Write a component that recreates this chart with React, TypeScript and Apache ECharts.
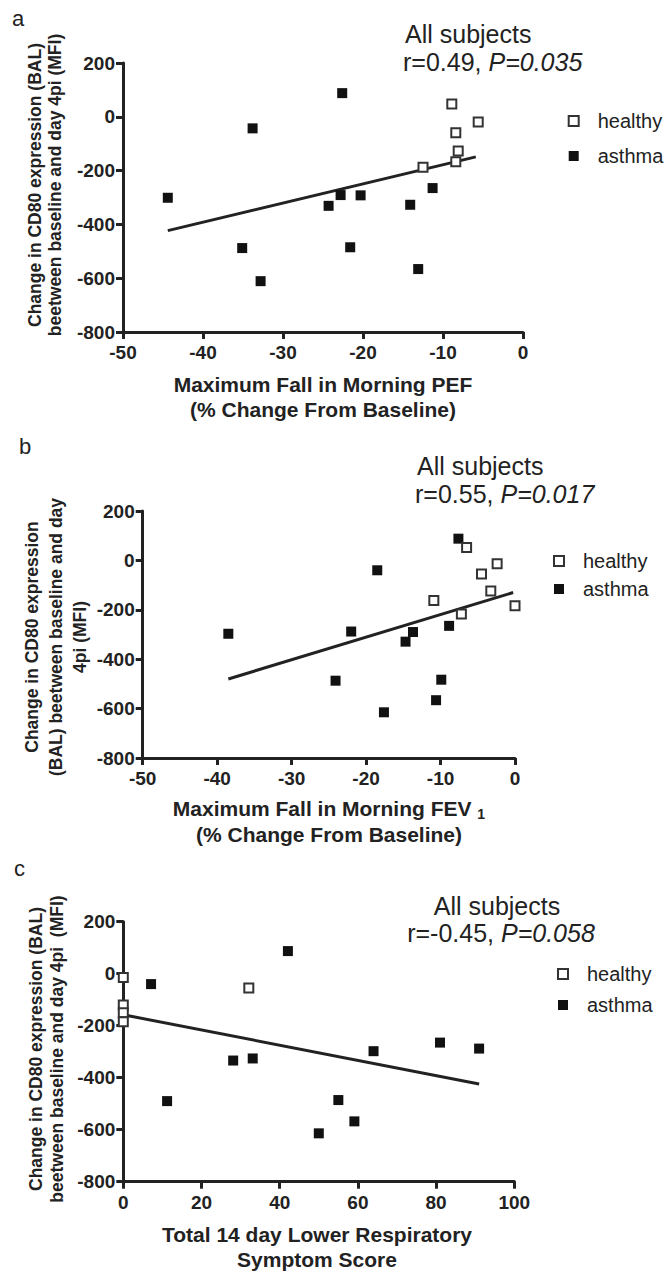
import React, { useEffect, useRef } from 'react';
import * as echarts from 'echarts';

const FONT = '"Liberation Sans", Arial, Helvetica, sans-serif';
const INK = '#222';

// Panel a: Maximum fall in morning PEF vs change in CD80
const healthyA = [[-8.9, 48], [-8.4, -59], [-8.1, -127], [-8.4, -167], [-12.5, -188], [-5.6, -19]];
const asthmaA = [
  [-44.4, -301], [-33.8, -43], [-22.6, 88], [-35.1, -488], [-32.8, -611], [-24.3, -331],
  [-22.8, -291], [-20.3, -292], [-21.6, -485], [-14.1, -327], [-11.3, -265], [-13.1, -566],
];
const fitA = [[-44.4, -423], [-5.9, -149]];

// Panel b: Maximum fall in morning FEV1
const healthyB = [[-6.5, 52], [-4.5, -55], [-2.4, -14], [-3.25, -124], [0, -184], [-7.2, -217], [-10.9, -162]];
const asthmaB = [
  [-38.5, -297], [-22.0, -288], [-18.5, -40], [-24.1, -487], [-17.6, -615], [-14.7, -329],
  [-13.7, -290], [-7.6, 88], [-8.85, -265], [-9.9, -483], [-10.6, -566],
];
const fitB = [[-38.5, -480], [-0.25, -130]];

// Panel c: Total 14 day lower respiratory symptom score
const healthyC = [[0, -15], [0, -120], [0, -150], [0, -185], [32.1, -55]];
const asthmaC = [
  [7.1, -40], [11.2, -490], [28.1, -334], [33.1, -326], [42.1, 87], [55, -486],
  [50, -614], [59.1, -568], [64, -298], [81, -265], [91, -288],
];
const fitC = [[0, -158], [91, -424]];

const statsA = ['All subjects', 'r=0.49, ', 'P=0.035'];
const statsB = ['All subjects', 'r=0.55, ', 'P=0.017'];
const statsC = ['All subjects', 'r=-0.45, ', 'P=0.058'];

const yTitleA = 'Change in CD80 expression (BAL)\nbeetween baseline and day 4pi (MFI)';
const yTitleB = 'Change in CD80 expression\n(BAL) beetween baseline and day\n4pi (MFI)';
const yTitleC = 'Change in CD80 expression (BAL)\nbeetween baseline and day 4pi  (MFI)';

const legendNames = ['healthy', 'asthma'];

function xAxis(gi: number, min: number, max: number, interval: number) {
  return {
    gridIndex: gi, type: 'value', min, max, interval,
    axisLine: { show: true, onZero: false, lineStyle: { color: INK, width: 3 } },
    axisTick: { show: true, length: 7, lineStyle: { color: INK, width: 3 } },
    axisLabel: { color: INK, fontSize: 19, fontWeight: 'bold', fontFamily: FONT, margin: 11 },
    splitLine: { show: false },
  };
}
function yAxis(gi: number) {
  return {
    gridIndex: gi, type: 'value', min: -800, max: 200, interval: 200,
    axisLine: { show: true, onZero: false, lineStyle: { color: INK, width: 3 } },
    axisTick: { show: true, length: 7, lineStyle: { color: INK, width: 3 } },
    axisLabel: { color: INK, fontSize: 19, fontWeight: 'bold', fontFamily: FONT, margin: 8 },
    splitLine: { show: false },
  };
}
function seriesFor(gi: number, healthy: number[][], asthma: number[][], fit: number[][]) {
  return [
    {
      type: 'line', name: 'fit' + gi, xAxisIndex: gi, yAxisIndex: gi, data: fit,
      showSymbol: false, symbol: 'none', lineStyle: { color: INK, width: 3 }, z: 2, clip: false,
    },
    {
      type: 'scatter', name: 'asthma', xAxisIndex: gi, yAxisIndex: gi, data: asthma,
      symbol: 'rect', symbolSize: 10, itemStyle: { color: '#111', opacity: 1 }, z: 3, clip: false,
    },
    {
      type: 'scatter', name: 'healthy', xAxisIndex: gi, yAxisIndex: gi, data: healthy,
      symbol: 'rect', symbolSize: 9, itemStyle: { color: '#fff', borderColor: '#333', borderWidth: 2, opacity: 1 },
      z: 4, clip: false,
    },
  ];
}
function legendAt(left: number, top: number, gap: number) {
  return {
    orient: 'vertical', left, top, itemGap: gap, itemWidth: 10, itemHeight: 10,
    selectedMode: false,
    textStyle: { fontSize: 20, color: INK, fontFamily: FONT, lineHeight: 20, padding: [0, 0, 0, 14] },
    data: [
      { name: legendNames[0], icon: 'rect', itemStyle: { color: '#fff', borderColor: '#333', borderWidth: 2 } },
      { name: legendNames[1], icon: 'rect', itemStyle: { color: '#111' } },
    ],
  };
}
function txt(x: number, y: number, text: string, font: string, align = 'left', extra: any = {}) {
  return {
    type: 'text', x, y, z: 10,
    style: {
      text, font, fill: INK, textAlign: align, textVerticalAlign: 'middle', align, verticalAlign: 'middle',
      ...extra,
    },
  };
}
function stats(x: number, y1: number, y2: number, s: string[], align = 'left') {
  const rich = {
    n: { fontSize: 25, fontFamily: FONT, color: INK },
    i: { fontSize: 25, fontFamily: FONT, color: INK, fontStyle: 'italic' },
  };
  return [
    txt(align === 'center' ? x - 4 : x + 2, y1, s[0], `25px ${FONT}`, align),
    txt(x, y2, `{n|${s[1]}}{i|${s[2]}}`, `25px ${FONT}`, align, { rich }),
  ];
}
function yTitle(x: number, y: number, text: string, lh: number) {
  return {
    type: 'text', x, y, rotation: Math.PI / 2, z: 10,
    style: {
      text, font: `bold 17.5px ${FONT}`, fill: INK, lineHeight: lh,
      textAlign: 'center', textVerticalAlign: 'middle', align: 'center', verticalAlign: 'middle',
    },
  };
}

export default function App() {
  const ref = useRef<HTMLDivElement>(null);
  useEffect(() => {
    if (!ref.current) return;
    const chart = echarts.init(ref.current, undefined, { renderer: 'svg' });
    const xRich = {
      t: { fontSize: 21, fontWeight: 'bold', fontFamily: FONT, color: INK, lineHeight: 26 },
      s: { fontSize: 14, fontWeight: 'bold', fontFamily: FONT, color: INK, verticalAlign: 'bottom', lineHeight: 20 },
    };
    chart.setOption({
      animation: false,
      backgroundColor: '#fff',
      grid: [
        { left: 123, top: 63, width: 400, height: 269 },
        { left: 142.7, top: 511, width: 372.3, height: 247 },
        { left: 123.3, top: 921.7, width: 391, height: 260 },
      ],
      xAxis: [xAxis(0, -50, 0, 10), xAxis(1, -50, 0, 10), xAxis(2, 0, 100, 20)],
      yAxis: [yAxis(0), yAxis(1), yAxis(2)],
      legend: [legendAt(562.7, 106, 15), legendAt(548, 546, 8), legendAt(552, 959, 11)],
      series: [
        ...seriesFor(0, healthyA, asthmaA, fitA),
        ...seriesFor(1, healthyB, asthmaB, fitB),
        ...seriesFor(2, healthyC, asthmaC, fitC),
      ],
      graphic: [
        txt(12, 18, 'a', `22px ${FONT}`),
        txt(19, 446, 'b', `22px ${FONT}`),
        txt(14, 868, 'c', `22px ${FONT}`),
        ...stats(403, 34, 62, statsA),
        ...stats(415, 466, 494, statsB),
        ...stats(501, 906, 933, statsC, 'center'),
        yTitle(45, 185, yTitleA, 20),
        yTitle(56, 637, yTitleB, 24),
        yTitle(46, 1049, yTitleC, 21),
        txt(323, 397, 'Maximum Fall in Morning PEF\n(% Change From Baseline)', `bold 21px ${FONT}`, 'center', { lineHeight: 25 }),
        txt(329, 821, '{t|Maximum Fall in Morning FEV }{s|1}\n{t|(% Change From Baseline)}', `bold 21px ${FONT}`, 'center', { rich: xRich }),
        txt(317, 1247, 'Total 14 day Lower Respiratory\nSymptom Score', `bold 21px ${FONT}`, 'center', { lineHeight: 25 }),
      ],
    });
    return () => chart.dispose();
  }, []);
  return <div ref={ref} style={{ position: 'absolute', left: 0, top: 0, width: 667, height: 1271 }} />;
}
